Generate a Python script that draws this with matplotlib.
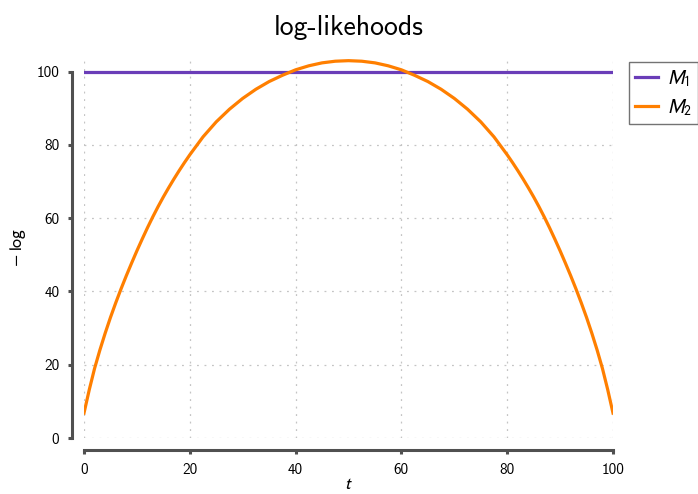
import matplotlib
matplotlib.use('Agg')
import matplotlib.pyplot as plt

plt.rcParams['font.family'] = ['cmss10', 'DejaVu Sans']
plt.rcParams['mathtext.fontset'] = 'stixsans'
plt.rcParams['axes.unicode_minus'] = False

# values
t_left = [0, 1, 2, 3, 4, 5, 6, 7, 8, 9, 10, 11, 12, 13, 14, 15, 16, 17, 18,
          19, 20, 22.5, 25, 27.5, 30, 32.5, 35, 37.5, 40, 42.5, 45, 47.5]
m2_left = [6.8, 13.2, 19.0, 24.0, 28.6, 32.9, 36.9, 40.7, 44.3, 47.75, 51.1,
           54.3, 57.4, 60.35, 63.15, 65.8, 68.3, 70.7, 73.0, 75.2, 77.3, 82.2,
           86.3, 89.75, 92.7, 95.2, 97.3, 99.0, 100.5, 101.6, 102.4, 102.85]
t_mid = [50]
m2_mid = [103.0]
t_right = [52.5, 55, 57.5, 60, 62.5, 65, 67.5, 70, 72.5, 75, 77.5, 80, 81,
           82, 83, 84, 85, 86, 87, 88, 89, 90, 91, 92, 93, 94, 95, 96, 97,
           98, 99, 100]
m2_right = [102.85, 102.4, 101.6, 100.5, 99.0, 97.3, 95.2, 92.7, 89.75, 86.3,
            82.2, 77.3, 75.2, 73.0, 70.7, 68.3, 65.8, 63.15, 60.35, 57.4,
            54.3, 51.1, 47.75, 44.3, 40.7, 36.9, 32.9, 28.6, 24.0, 19.0,
            13.2, 6.8]

t = t_left + t_mid + t_right
m2 = m2_left + m2_mid + m2_right
t_m1 = [0, 100]
m1 = [100, 100]

ticks = [0, 20, 40, 60, 80, 100]

fig = plt.figure(figsize=(6.98, 4.94), dpi=100)
ax = fig.add_axes([84/698, 1 - 438/494, (613-84)/698, (438-57)/494])

ax.plot(t_m1, m1, color='#6a3db8', lw=2.3, label='$M_1$', zorder=3)
ax.plot(t, m2, color='#ff7f00', lw=2.3, label='$M_2$', zorder=3)

ax.set_xlim(0, 100)
ax.set_ylim(0, 104)
ax.set_xticks(ticks)
ax.set_yticks(ticks)
ax.grid(True, linestyle=(0, (1.5, 4.5)), color='#c4c4c4', linewidth=0.9)

for s in ['top', 'right']:
    ax.spines[s].set_visible(False)
for s in ['left', 'bottom']:
    ax.spines[s].set_position(('outward', 8.64))
    ax.spines[s].set_bounds(0, 100)
    ax.spines[s].set_linewidth(2.2)
    ax.spines[s].set_color('#505050')
ax.tick_params(direction='out', length=3, width=2.2, color='#505050',
               labelsize=11, pad=6)

ax.set_title('log-likehoods', fontsize=20, pad=16)
ax.set_xlabel('$t$', fontsize=13, labelpad=0)
ax.set_ylabel(r'$-\;\log$', fontsize=13, labelpad=6)

leg = ax.legend(loc='upper left', bbox_to_anchor=(629/698, 1 - 62/494),
                bbox_transform=fig.transFigure, borderaxespad=0,
                fontsize=14, fancybox=False, handlelength=1.2,
                handletextpad=0.45, borderpad=0.3, labelspacing=0.45)
leg.get_frame().set_edgecolor('#505050')
leg.get_frame().set_linewidth(1.0)

fig.savefig('out.png', dpi=100)
